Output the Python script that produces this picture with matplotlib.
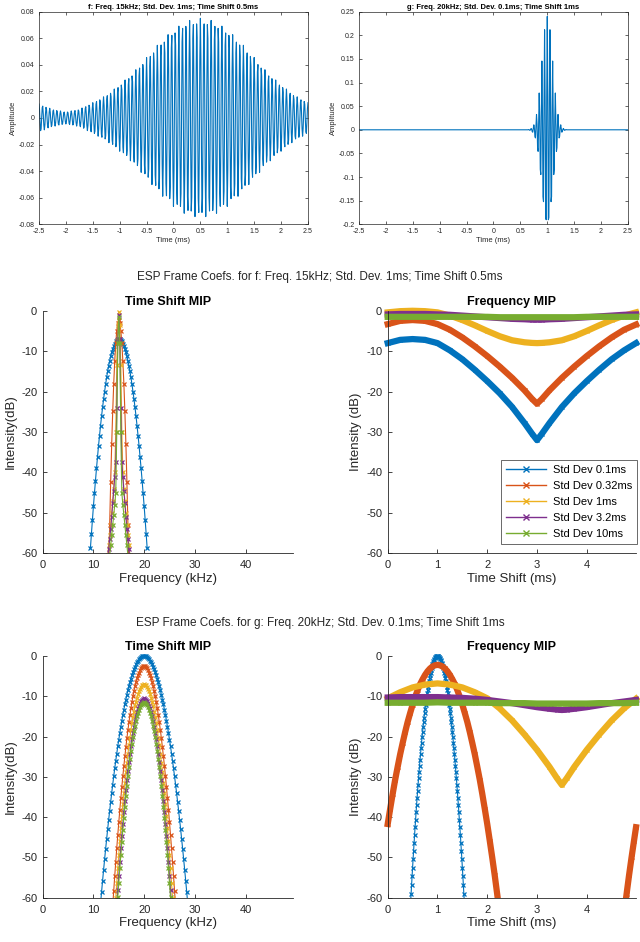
import numpy as np
import matplotlib
matplotlib.use('Agg')
import matplotlib.pyplot as plt
from matplotlib.lines import Line2D
from matplotlib.transforms import Bbox, TransformedBbox

plt.rcParams['font.family'] = ['Liberation Sans', 'DejaVu Sans']
plt.rcParams['axes.unicode_minus'] = False

COLS = ['#0072BD', '#D95319', '#EDB120', '#7E2F8E', '#77AC30']
GREY = '#262626'
std_labels = ['Std Dev 0.1ms', 'Std Dev 0.32ms', 'Std Dev 1ms', 'Std Dev 3.2ms', 'Std Dev 10ms']

# ---------------- top row: the two test signals (100 kHz sampling) ----------------
t_ms = np.arange(-250, 251) / 100.0
# f: envelope every 0.25 ms, carrier 15 kHz (from the title)
f_env_t = np.linspace(-2.5, 2.5, 21)
f_env = [0.0105, 0.0065, 0.0045, 0.0065, 0.0115, 0.017, 0.025, 0.034, 0.0455, 0.057, 0.0665,
         0.073, 0.075, 0.073, 0.0665, 0.057, 0.0455, 0.034, 0.025, 0.017, 0.0115]
f_carrier_khz = 15.0
f_shift_ms = 0.5
# g: samples around t = 1 ms (zero elsewhere)
g_centre_ms = 1.0
g_seg = [0.0005, 0.0002, -0.0008, -0.0011, 0.0006, 0.0027, 0.0011, -0.0039, -0.0051, 0.0025,
         0.0105, 0.0042, -0.0138, -0.0172, 0.0082, 0.0325, 0.0122, -0.0383, -0.0457, 0.0206,
         0.0779, 0.0278, -0.0836, -0.0947, 0.0405, 0.1456, 0.0494, -0.1413, -0.1521, 0.0620,
         0.2118, 0.0684, -0.1856, -0.1904, 0.0738,
         0.240,
         0.0738, -0.1904, -0.1856, 0.0684, 0.2118, 0.0620, -0.1521, -0.1413, 0.0494, 0.1456,
         0.0405, -0.0947, -0.0836, 0.0278, 0.0779, 0.0206, -0.0457, -0.0383, 0.0122, 0.0325,
         0.0082, -0.0172, -0.0138, 0.0042, 0.0105, 0.0025, -0.0051, -0.0039, 0.0011, 0.0027,
         0.0006, -0.0011, -0.0008, 0.0002, 0.0005]

# ---------------- middle row: coefficients for f ----------------
# Time Shift MIP, 0.2 kHz bins centred on 15 kHz
f_ts = [
    [-58.8, -55.2, -51.7, -48.3, -45.1, -42.0, -39.0, -36.2, -33.4, -30.9, -28.4, -26.1, -23.9,
     -21.9, -20.0, -18.2, -16.5, -15.0, -13.6, -12.4, -11.2, -10.2, -9.4, -8.7, -8.1, -7.6, -7.3,
     -7.1, -7.0, -7.1, -7.3, -7.6, -8.1, -8.7, -9.4, -10.2, -11.2, -12.4, -13.6, -15.0, -16.5,
     -18.2, -20.0, -21.9, -23.9, -26.1, -28.4, -30.9, -33.4, -36.2, -39.0, -42.0, -45.1, -48.3,
     -51.7, -55.2, -58.8],
    [-64.8, -52.9, -42.3, -33.0, -24.9, -18.0, -12.4, -8.0, -4.9, -3.0, -2.4, -3.0, -4.9, -8.0,
     -12.4, -18.0, -24.9, -33.0, -42.3, -52.9, -64.8],
    [-60.5, -58.0, -55.5, -53.0, -50.0, -47.0, -44.0, -40.0, -30.0, -13.5, -3.5, -0.2, -3.5,
     -13.5, -30.0, -40.0, -44.0, -47.0, -50.0, -53.0, -55.5, -58.0, -60.5],
    [-61.5, -59.0, -56.5, -54.0, -51.0, -47.5, -44.5, -41.0, -37.5, -24.0, -7.0, -1.0, -7.0,
     -24.0, -37.5, -41.0, -44.5, -47.5, -51.0, -54.0, -56.5, -59.0, -61.5],
    [-60.5, -58.0, -55.5, -53.0, -50.5, -48.0, -45.0, -30.0, -8.0, -1.5, -8.0, -30.0, -45.0,
     -48.0, -50.5, -53.0, -55.5, -58.0, -60.5],
]
# Frequency MIP
f_fm_t = [0, 0.25, 0.5, 0.75, 1.0, 1.25, 1.5, 1.75, 2.0, 2.25, 2.5, 2.75, 2.9, 3.0, 3.1, 3.25,
          3.5, 3.75, 4.0, 4.25, 4.5, 4.75, 4.99]
f_fm = [
    [-8.0, -7.2, -7.0, -7.2, -8.0, -9.8, -12.0, -14.6, -17.4, -20.4, -23.8, -27.8, -30.4, -32.0,
     -30.4, -27.8, -23.8, -20.4, -17.4, -14.6, -12.0, -9.8, -8.0],
    [-3.3, -2.5, -2.3, -2.5, -3.3, -4.7, -6.6, -8.8, -11.2, -13.8, -16.6, -19.7, -21.8, -23.0,
     -21.8, -19.7, -16.6, -13.8, -11.2, -8.8, -6.6, -4.7, -3.4],
    [-0.4, -0.1, 0.0, -0.1, -0.4, -1.2, -2.3, -3.6, -5.0, -6.3, -7.3, -7.8, -7.95, -8.0, -7.95,
     -7.8, -7.3, -6.3, -5.0, -3.6, -2.3, -1.2, -0.4],
    [-0.9, -0.8, -0.8, -0.8, -0.9, -1.0, -1.2, -1.4, -1.6, -1.8, -2.0, -2.1, -2.2, -2.2, -2.2,
     -2.1, -2.0, -1.8, -1.6, -1.4, -1.2, -1.0, -0.9],
    [-1.5, -1.5, -1.5, -1.5, -1.5, -1.5, -1.5, -1.5, -1.5, -1.6, -1.6, -1.6, -1.6, -1.6, -1.6,
     -1.6, -1.6, -1.6, -1.5, -1.5, -1.5, -1.5, -1.5],
]

# ---------------- bottom row: coefficients for g ----------------
# Time Shift MIP, 0.2 kHz bins centred on 20 kHz
g_ts = [
    [-61.4, -58.6, -55.8, -53.1, -50.5, -47.9, -45.5, -43.0, -40.7, -38.4, -36.2, -34.0, -31.9,
     -29.9, -27.9, -26.0, -24.2, -22.4, -20.8, -19.1, -17.6, -16.1, -14.6, -13.3, -12.0, -10.8,
     -9.6, -8.5, -7.5, -6.5, -5.6, -4.8, -4.0, -3.3, -2.7, -2.1, -1.6, -1.2, -0.8, -0.5, -0.3,
     -0.1, 0.0, 0.0, 0.0, -0.1, -0.3, -0.5, -0.8, -1.2, -1.6, -2.1, -2.7, -3.3, -4.0, -4.8,
     -5.6, -6.5, -7.5, -8.5, -9.6, -10.8, -12.0, -13.3, -14.6, -16.1, -17.6, -19.1, -20.8,
     -22.4, -24.2, -26.0, -27.9, -29.9, -31.9, -34.0, -36.2, -38.4, -40.7, -43.0, -45.5, -47.9,
     -50.5, -53.1, -55.8, -58.6, -61.4],
    [-62.1, -58.3, -54.6, -51.1, -47.7, -44.4, -41.3, -38.2, -35.3, -32.5, -29.8, -27.3, -24.9,
     -22.6, -20.4, -18.4, -16.5, -14.7, -13.0, -11.4, -10.0, -8.7, -7.5, -6.5, -5.5, -4.7,
     -4.1, -3.5, -3.1, -2.7, -2.6, -2.5, -2.6, -2.7, -3.1, -3.5, -4.1, -4.7, -5.5, -6.5, -7.5,
     -8.7, -10.0, -11.4, -13.0, -14.7, -16.5, -18.4, -20.4, -22.6, -24.9, -27.3, -29.8, -32.5,
     -35.3, -38.2, -41.3, -44.4, -47.7, -51.1, -54.6, -58.3, -62.1],
    [-63.9, -60.0, -56.3, -52.7, -49.3, -45.9, -42.8, -39.7, -36.8, -34.0, -31.4, -28.9, -26.5,
     -24.3, -22.2, -20.3, -18.4, -16.7, -15.2, -13.8, -12.5, -11.3, -10.3, -9.4, -8.7, -8.1,
     -7.6, -7.3, -7.1, -7.0, -7.1, -7.3, -7.6, -8.1, -8.7, -9.4, -10.3, -11.3, -12.5, -13.8,
     -15.2, -16.7, -18.4, -20.3, -22.2, -24.3, -26.5, -28.9, -31.4, -34.0, -36.8, -39.7, -42.8,
     -45.9, -49.3, -52.7, -56.3, -60.0, -63.9],
    [-61.8, -58.1, -54.5, -51.1, -47.7, -44.6, -41.6, -38.7, -35.9, -33.3, -30.9, -28.5, -26.3,
     -24.3, -22.4, -20.6, -19.0, -17.5, -16.2, -15.0, -14.0, -13.0, -12.3, -11.6, -11.1, -10.8,
     -10.6, -10.5, -10.6, -10.8, -11.1, -11.6, -12.3, -13.0, -14.0, -15.0, -16.2, -17.5, -19.0,
     -20.6, -22.4, -24.3, -26.3, -28.5, -30.9, -33.3, -35.9, -38.7, -41.6, -44.6, -47.7, -51.1,
     -54.5, -58.1, -61.8],
    [-63.7, -59.9, -56.3, -52.7, -49.4, -46.2, -43.1, -40.1, -37.4, -34.7, -32.2, -29.8, -27.6,
     -25.5, -23.6, -21.8, -20.2, -18.7, -17.3, -16.1, -15.0, -14.1, -13.3, -12.7, -12.1, -11.8,
     -11.6, -11.5, -11.6, -11.8, -12.1, -12.7, -13.3, -14.1, -15.0, -16.1, -17.3, -18.7, -20.2,
     -21.8, -23.6, -25.5, -27.6, -29.8, -32.2, -34.7, -37.4, -40.1, -43.1, -46.2, -49.4, -52.7,
     -56.3, -59.9, -63.7],
]
# Frequency MIP: blue on 0.01 ms bins centred on 1 ms
g_fm_blue = [
    -61.2, -59.0, -56.8, -54.6, -52.5, -50.4, -48.4, -46.4, -44.4, -42.5, -40.7, -38.8, -37.0,
    -35.3, -33.6, -31.9, -30.3, -28.8, -27.2, -25.7, -24.3, -22.9, -21.5, -20.2, -18.9, -17.7,
    -16.5, -15.3, -14.2, -13.1, -12.1, -11.1, -10.2, -9.3, -8.4, -7.6, -6.8, -6.1, -5.4, -4.7,
    -4.1, -3.5, -3.0, -2.5, -2.1, -1.7, -1.3, -1.0, -0.8, -0.5, -0.3, -0.2, -0.1, 0.0,
    0.0,
    0.0, -0.1, -0.2, -0.3, -0.5, -0.8, -1.0, -1.3, -1.7, -2.1, -2.5, -3.0, -3.5, -4.1, -4.7,
    -5.4, -6.1, -6.8, -7.6, -8.4, -9.3, -10.2, -11.1, -12.1, -13.1, -14.2, -15.3, -16.5, -17.7,
    -18.9, -20.2, -21.5, -22.9, -24.3, -25.7, -27.2, -28.8, -30.3, -31.9, -33.6, -35.3, -37.0,
    -38.8, -40.7, -42.5, -44.4, -46.4, -48.4, -50.4, -52.5, -54.6, -56.8, -59.0, -61.2]
g_fm_orange_t = np.arange(46) * 0.05
g_fm_orange = [-41.7, -37.9, -34.2, -30.7, -27.5, -24.4, -21.6, -18.9, -16.4, -14.2, -12.1, -10.2,
               -8.5, -7.0, -5.8, -4.7, -3.8, -3.1, -2.6, -2.3, -2.2, -2.3, -2.6, -3.1, -3.8, -4.7,
               -5.8, -7.0, -8.5, -10.2, -12.1, -14.2, -16.4, -18.9, -21.6, -24.4, -27.5, -30.7,
               -34.2, -37.9, -41.7, -45.8, -50.0, -54.4, -59.1, -63.9]
g_fm_orange_wrap_t = [4.75, 4.8, 4.85, 4.9, 4.95, 4.99]
g_fm_orange_wrap = [-63.9, -59.1, -54.4, -50.0, -45.8, -42.5]
g_fm_t = [0, 0.25, 0.5, 0.75, 1.0, 1.25, 1.5, 1.75, 2.0, 2.25, 2.5, 2.75, 3.0, 3.25, 3.4, 3.5,
          3.6, 3.75, 4.0, 4.25, 4.5, 4.75, 4.99]
g_fm_rest = [
    [-10.5, -9.0, -7.8, -7.1, -6.8, -7.1, -7.8, -9.0, -10.5, -13.0, -16.0, -19.5, -23.3, -27.5,
     -30.3, -32.0, -30.3, -27.5, -23.3, -19.5, -16.0, -13.0, -10.6],
    [-10.3, -10.2, -10.2, -10.2, -10.2, -10.3, -10.4, -10.6, -10.9, -11.3, -11.7, -12.2, -12.7,
     -13.1, -13.3, -13.4, -13.3, -13.1, -12.7, -12.2, -11.7, -11.3, -10.9],
    [-11.6, -11.6, -11.6, -11.6, -11.5, -11.6, -11.6, -11.6, -11.6, -11.7, -11.7, -11.7, -11.8,
     -11.8, -11.8, -11.8, -11.8, -11.8, -11.8, -11.7, -11.7, -11.7, -11.6],
]


def centred(c, step, vals):
    return c + step * (np.arange(len(vals)) - (len(vals) - 1) / 2)


def unclip_top(ax):
    # MATLAB draws markers at the border fully; only the bottom edge really clips
    box = TransformedBbox(Bbox([[-0.02, 0.0], [1.02, 1.03]]), ax.transAxes)
    for ln in ax.lines:
        ln.set_clip_path(None)
        ln.set_clip_box(box)


fig = plt.figure(figsize=(6.4, 9.42), dpi=100)


def wave_axes(rect, sig, title, yticks):
    ax = fig.add_axes(rect)
    ax.plot(t_ms, sig, color=COLS[0], lw=0.8)
    ax.set_xlim(-2.5, 2.5)
    ax.set_ylim(yticks[0], yticks[-1])
    xt = [-2.5, -2, -1.5, -1, -0.5, 0, 0.5, 1, 1.5, 2, 2.5]
    ax.set_xticks(xt, labels=['%g' % v for v in xt])
    ax.set_yticks(yticks, labels=['%g' % v for v in yticks])
    ax.tick_params(direction='in', top=True, right=True, length=2, width=0.5,
                   labelsize=5, colors=GREY, pad=3)
    for s in ax.spines.values():
        s.set_color(GREY)
        s.set_linewidth(0.5)
    ax.set_title(title, fontsize=5.5, fontweight='bold', pad=2)
    ax.set_xlabel('Time (ms)', fontsize=5.5, color=GREY, labelpad=1)
    ax.set_ylabel('Amplitude', fontsize=5.5, color=GREY, labelpad=1)
    return ax


f_sig = np.interp(t_ms, f_env_t, f_env) * np.cos(2 * np.pi * f_carrier_khz * (t_ms - f_shift_ms))
g_sig = np.zeros(len(t_ms))
i0 = int(round((g_centre_ms + 2.5) * 100))
g_sig[i0 - 35:i0 + 36] = g_seg

wave_axes([0.0609, 0.7619, 0.4203, 0.2257], f_sig,
          'f: Freq. 15kHz; Std. Dev. 1ms; Time Shift 0.5ms',
          [-0.08, -0.06, -0.04, -0.02, 0, 0.02, 0.04, 0.06, 0.08])
wave_axes([0.5609, 0.7619, 0.4203, 0.2257], g_sig,
          'g: Freq. 20kHz; Std. Dev. 0.1ms; Time Shift 1ms',
          [-0.2, -0.15, -0.1, -0.05, 0, 0.05, 0.1, 0.15, 0.2, 0.25])


def mip_axes(rect, title, xlabel, ylabel, xmax, xticks):
    ax = fig.add_axes(rect)
    ax.set_xlim(0, xmax)
    ax.set_ylim(-60, 0)
    ax.set_xticks(xticks)
    ax.set_yticks(range(-60, 1, 10))
    ax.spines['top'].set_visible(False)
    ax.spines['right'].set_visible(False)
    for s in ('left', 'bottom'):
        ax.spines[s].set_color(GREY)
        ax.spines[s].set_linewidth(0.6)
    ax.tick_params(direction='in', length=3, width=0.6, labelsize=8, colors=GREY)
    ax.tick_params(axis='x', pad=5)
    ax.tick_params(axis='y', pad=4)
    ax.set_title(title, fontsize=9, fontweight='bold', pad=4)
    ax.set_xlabel(xlabel, fontsize=9.5, color=GREY, labelpad=2)
    ax.set_ylabel(ylabel, fontsize=9.5, color=GREY, labelpad=3)
    return ax


def ts_panel(rect, centre, series):
    ax = mip_axes(rect, 'Time Shift MIP', 'Frequency (kHz)', 'Intensity(dB)', 49.3,
                  [0, 10, 20, 30, 40])
    for c, v in zip(COLS, series):
        ax.plot(centred(centre, 0.2, v), v, color=c, lw=0.8, marker='x', ms=3.5, mew=0.9)
    unclip_top(ax)
    return ax


ts_panel([0.0668, 0.4126, 0.3905, 0.2575], 15.0, f_ts)
ts_panel([0.0668, 0.0470, 0.3905, 0.2566], 20.0, g_ts)

band = dict(lw=4.5, marker='x', ms=3.5, mew=0.9, solid_joinstyle='round')

# middle right
ax = mip_axes([0.6058, 0.4126, 0.3880, 0.2575], 'Frequency MIP', 'Time Shift (ms)',
              'Intensity (dB)', 4.99, [0, 1, 2, 3, 4])
for c, v in zip(COLS, f_fm):
    ax.plot(f_fm_t, v, color=c, **band)
unclip_top(ax)
handles = [Line2D([], [], color=c, lw=1, marker='x', ms=4, mew=1) for c in COLS]
leg = ax.legend(handles, std_labels, loc='lower right', bbox_to_anchor=(1.005, 0.037),
                fontsize=8, frameon=True, fancybox=False, handlelength=3.6,
                labelspacing=0.55, borderpad=0.45, handletextpad=0.6, borderaxespad=0)
leg.get_frame().set_edgecolor(GREY)
leg.get_frame().set_linewidth(0.6)
for txt in leg.get_texts():
    txt.set_color('black')

# bottom right
ax = mip_axes([0.6058, 0.0470, 0.3880, 0.2566], 'Frequency MIP', 'Time Shift (ms)',
              'Intensity (dB)', 4.99, [0, 1, 2, 3, 4])
ax.plot(centred(1.0, 0.01, g_fm_blue), g_fm_blue, color=COLS[0], lw=0.8, marker='x', ms=3.5,
        mew=0.9)
ax.plot(g_fm_orange_t, g_fm_orange, color=COLS[1], **band)
ax.plot(g_fm_orange_wrap_t, g_fm_orange_wrap, color=COLS[1], **band)
for c, v in zip(COLS[2:], g_fm_rest):
    ax.plot(g_fm_t, v, color=c, **band)
unclip_top(ax)

fig.text(0.5, 0.7063, 'ESP Frame Coefs. for f: Freq. 15kHz; Std. Dev. 1ms; Time Shift 0.5ms',
         ha='center', va='center', fontsize=8.5, color=GREY)
fig.text(0.5, 0.3383, 'ESP Frame Coefs. for g: Freq. 20kHz; Std. Dev. 0.1ms; Time Shift 1ms',
         ha='center', va='center', fontsize=8.5, color=GREY)

fig.savefig('out.png', dpi=100)
